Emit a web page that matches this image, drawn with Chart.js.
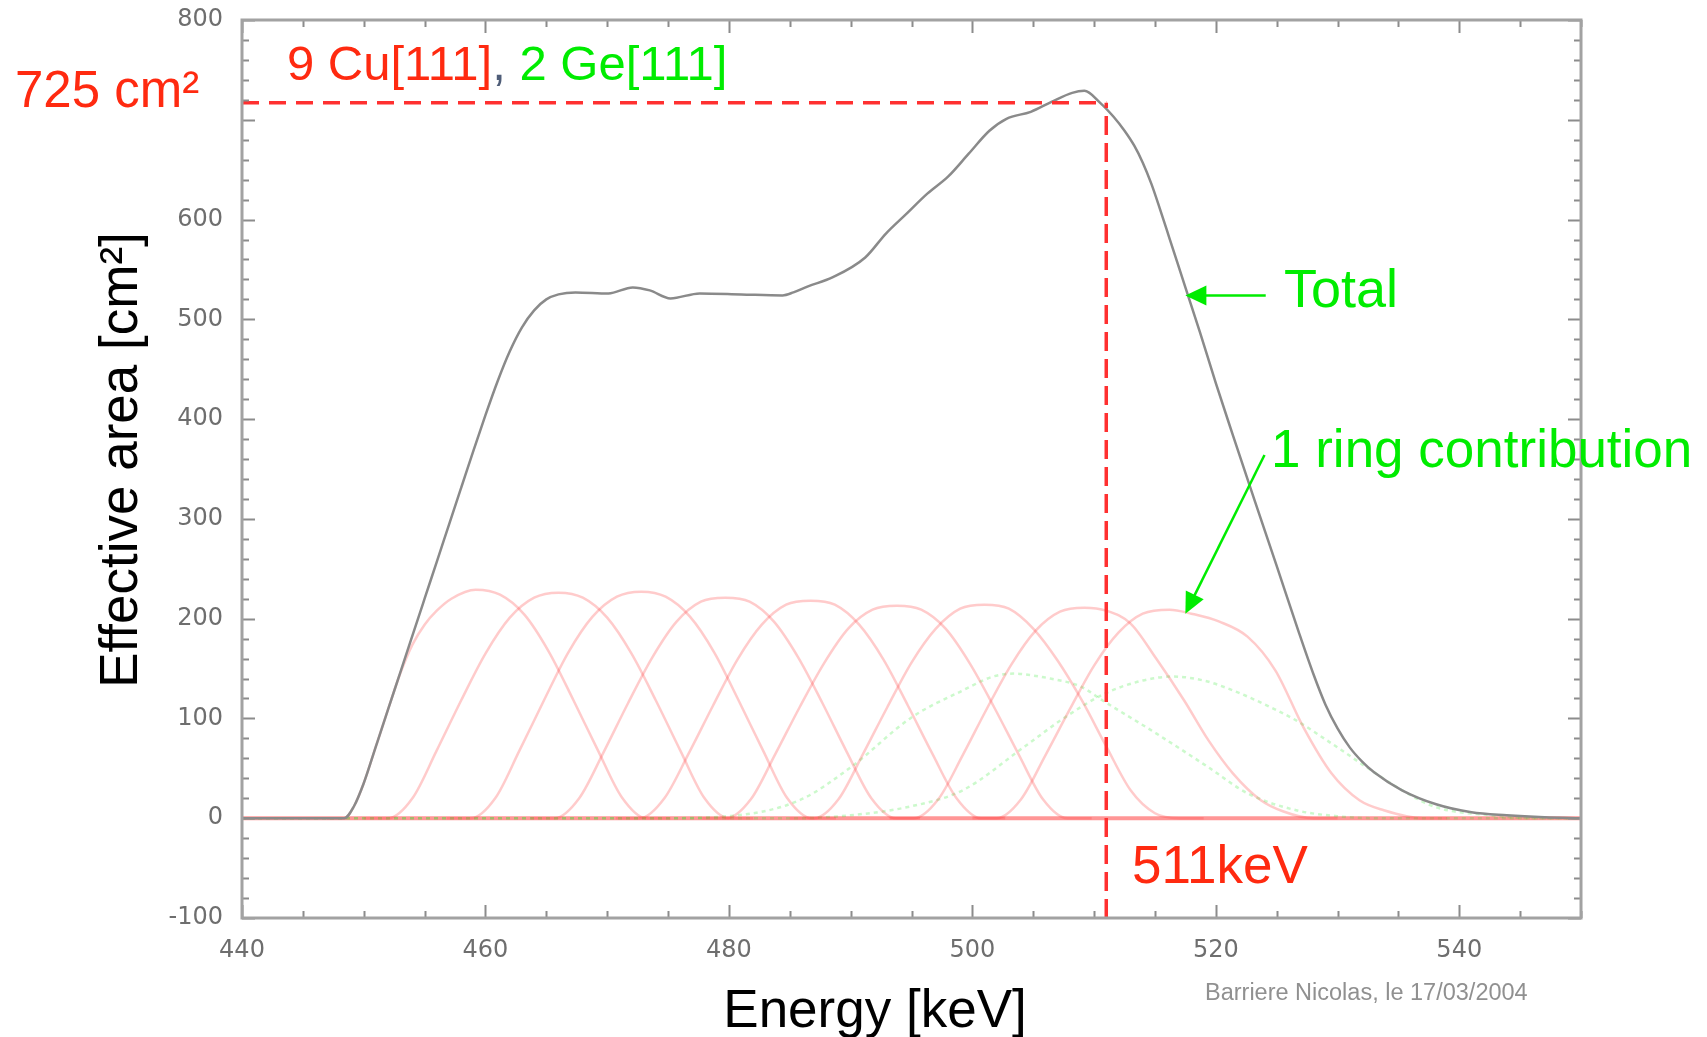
<!DOCTYPE html>
<html>
<head>
<meta charset="utf-8">
<script src="https://cdn.jsdelivr.net/npm/chart.js@4.4.1/dist/chart.umd.min.js"></script>
<style>
  html, body { margin: 0; padding: 0; background: #fff; }
  #wrap { width: 1707px; height: 1037px; }
</style>
</head>
<body>
<div id="wrap"><canvas id="chart" width="1707" height="1037"></canvas></div>
<script>
// axis ticks
const xTicks = [440, 460, 480, 500, 520, 540];
const yTicks = [-100, 0, 100, 200, 300, 400, 500, 600, 800];

// Total effective area [keV, cm2]
const totalCurve = [
    [440, 0], [448.4, 0], [449.2, 12], [450, 35], [451, 72], [452, 109], [453, 146],
    [454, 183], [455, 220], [456, 257], [457, 294], [458, 331], [459, 368], [460, 404],
    [461, 438], [462, 468], [463, 492], [464, 509], [465, 520], [466, 525], [467.4, 527],
    [470.1, 526], [472.1, 532], [473.5, 529], [475.2, 521], [477.6, 526], [481, 525],
    [484.4, 524], [485.3, 527], [486.5, 533], [488.5, 542], [491.2, 562], [492.9, 586],
    [494.6, 606], [496.3, 626], [498, 643], [499.7, 666], [501.4, 689], [502.8, 701],
    [504.8, 708], [506.5, 718], [508.2, 727], [509.2, 729], [510.5, 717], [511.6, 703],
    [512.5, 689], [513.3, 674], [514, 657], [514.7, 636], [515.4, 611], [516.2, 581],
    [517.5, 532], [518.7, 487], [520, 436], [521.4, 384], [523.2, 318], [525, 253],
    [526.8, 187], [528, 145], [529, 114], [530, 90], [531, 71], [532, 57], [533, 46],
    [535.3, 28], [538.1, 14], [541, 6], [543.9, 3], [547, 1], [550, 0]
];

// single Cu[111] ring contributions
const cu1 = [[447, 0], [448.4, 0], [449.2, 12], [450, 35], [451, 72], [452, 109], [453, 145], [454, 174], [455, 194], [456, 208], [457.2, 220], [459.2, 229], [461.2, 224], [463.2, 204], [465.2, 167], [467.2, 119], [469.2, 69], [471.2, 21], [473.2, 0], [475.2, 0]];
const cu2 = [[450, 0], [452, 0], [454, 20], [456, 68], [458, 118], [460, 165], [462, 201], [464, 221], [466, 226], [468, 221], [470, 201], [472, 165], [474, 118], [476, 68], [478, 20], [480, 0], [482, 0]];
const cu3 = [[456.8, 0], [458.8, 0], [460.8, 20], [462.8, 68], [464.8, 118], [466.8, 166], [468.8, 202], [470.8, 222], [472.8, 227], [474.8, 222], [476.8, 202], [478.8, 166], [480.8, 118], [482.8, 68], [484.8, 20], [486.8, 0], [488.8, 0]];
const cu4 = [[463.7, 0], [465.7, 0], [467.7, 20], [469.7, 66], [471.7, 115], [473.7, 161], [475.7, 197], [477.7, 217], [479.7, 221], [481.7, 217], [483.7, 197], [485.7, 161], [487.7, 115], [489.7, 66], [491.7, 20], [493.7, 0], [495.7, 0]];
const cu5 = [[470.7, 0], [472.7, 0], [474.7, 20], [476.7, 65], [478.7, 113], [480.7, 159], [482.7, 194], [484.7, 214], [486.7, 218], [488.7, 214], [490.7, 194], [492.7, 159], [494.7, 113], [496.7, 65], [498.7, 20], [500.7, 0], [502.7, 0]];
const cu6 = [[477.8, 0], [479.8, 0], [481.8, 19], [483.8, 64], [485.8, 111], [487.8, 155], [489.8, 190], [491.8, 209], [493.8, 213], [495.8, 209], [497.8, 190], [499.8, 155], [501.8, 111], [503.8, 64], [505.8, 19], [507.8, 0], [509.8, 0]];
const cu7 = [[485, 0], [487, 0], [489, 19], [491, 64], [493, 111], [495, 156], [497, 190], [499, 210], [501, 214], [503, 210], [505, 190], [507, 158], [509, 118], [511, 72], [513, 28], [515, 5], [517, 0], [519, 0]];
const cu8 = [[493.2, 0], [495.2, 0], [497.2, 19], [499.2, 63], [501.2, 110], [503.2, 154], [505.2, 188], [507.2, 207], [509.2, 211], [511, 208], [513, 195], [515.1, 160], [517.4, 118], [519.4, 78], [521.4, 45], [523.7, 18], [525.5, 7], [528, 0], [530, 0]];
const cu9 = [[500, 0], [502, 0], [504, 19], [506, 63], [508, 109], [510, 153], [512, 186], [514, 205], [516.2, 209], [518, 205], [520.3, 197], [522.6, 182], [524.9, 148], [527.2, 91], [529.5, 45], [531.8, 18], [533.8, 8], [537, 0], [539, 0]];

// Ge[111] ring contributions
const ge1 = [[440, 0], [474, 0], [479.9, 2], [485.8, 18], [490, 51], [495, 101], [499.2, 128], [501.7, 142], [503.5, 145], [505, 143], [506.4, 140], [508.9, 132], [510.7, 118], [515.1, 85], [519.4, 51], [522.6, 25], [526.6, 8], [530, 2], [533, 0], [550, 0]];
const ge2 = [[440, 0], [486, 0], [490, 3], [494.6, 11], [499.2, 28], [504.2, 71], [507.6, 101], [510.9, 125], [514, 138], [516.5, 142], [519, 138], [520.8, 131], [523.5, 117], [526.6, 98], [529.5, 75], [532.4, 51], [535.3, 28], [538.1, 11], [542.5, 3], [546, 0], [550, 0]];

// zero line shared by all rings
const zeroLine = [[440, 0], [550, 0]];

// 511 keV marker
const markEnergy = 511;
const markArea = 717;

// arrows: [tailE, tailA, tipE, tipA]
const totalArrow = [524.1, 524, 517.5, 524];
const ringArrow = [524.0, 364, 517.5, 205];

const RED = '#ff2a10';
const GREEN = '#00ec00';
const FONT = '"Liberation Sans", Arial, Helvetica, sans-serif';

function pts(arr) {
    return arr.map(p => ({ x: p[0], y: p[1] }));
}

function ringSet(arr) {
    return {
        data: pts(arr),
        borderColor: 'rgba(255, 70, 70, 0.28)',
        borderWidth: 2.5,
        pointRadius: 0,
        cubicInterpolationMode: 'monotone',
        fill: false
    };
}

function geSet(arr) {
    return {
        data: pts(arr),
        borderColor: 'rgba(40, 230, 40, 0.24)',
        borderWidth: 2.5,
        borderDash: [4, 4],
        pointRadius: 0,
        cubicInterpolationMode: 'monotone',
        fill: false
    };
}

function drawArrow(ctx, x, y, a) {
    const x0 = x.getPixelForValue(a[0]);
    const y0 = y.getPixelForValue(a[1]);
    const x1 = x.getPixelForValue(a[2]);
    const y1 = y.getPixelForValue(a[3]);
    const ang = Math.atan2(y1 - y0, x1 - x0);
    const head = 21;
    const half = 10;
    ctx.strokeStyle = GREEN;
    ctx.fillStyle = GREEN;
    ctx.lineWidth = 2.5;
    ctx.beginPath();
    ctx.moveTo(x0, y0);
    ctx.lineTo(x1 - Math.cos(ang) * head * 0.8, y1 - Math.sin(ang) * head * 0.8);
    ctx.stroke();
    ctx.beginPath();
    ctx.moveTo(x1, y1);
    ctx.lineTo(x1 - Math.cos(ang) * head - Math.sin(ang) * half, y1 - Math.sin(ang) * head + Math.cos(ang) * half);
    ctx.lineTo(x1 - Math.cos(ang) * head + Math.sin(ang) * half, y1 - Math.sin(ang) * head - Math.cos(ang) * half);
    ctx.closePath();
    ctx.fill();
}

const overlay = {
    id: 'overlay',
    afterDraw(chart) {
        const { ctx, chartArea: a, scales: { x, y } } = chart;
        ctx.save();

        // inward ticks on all four sides
        ctx.strokeStyle = '#8c8c8c';
        ctx.lineWidth = 2;
        ctx.beginPath();
        for (let v = -100; v <= 800; v += 20) {
            const py = Math.round(y.getPixelForValue(v)) + 0.5;
            const len = v % 100 === 0 ? 13 : 7;
            ctx.moveTo(a.left, py); ctx.lineTo(a.left + len, py);
            ctx.moveTo(a.right, py); ctx.lineTo(a.right - len, py);
        }
        for (let e = 440; e <= 550; e += 5) {
            const px = Math.round(x.getPixelForValue(e)) + 0.5;
            const len = (e - 440) % 20 === 0 ? 13 : 7;
            ctx.moveTo(px, a.bottom); ctx.lineTo(px, a.bottom - len);
            ctx.moveTo(px, a.top); ctx.lineTo(px, a.top + len);
        }
        ctx.stroke();

        // frame
        ctx.strokeStyle = '#a2a2a2';
        ctx.lineWidth = 3;
        ctx.strokeRect(a.left, a.top, a.right - a.left, a.bottom - a.top);

        // arrows
        drawArrow(ctx, x, y, totalArrow);
        drawArrow(ctx, x, y, ringArrow);

        // annotations
        ctx.textBaseline = 'alphabetic';
        ctx.textAlign = 'left';
        ctx.fillStyle = RED;
        ctx.font = '51px ' + FONT;
        ctx.fillText('725 cm²', 15, 107);

        ctx.font = '49px ' + FONT;
        let tx = 287;
        [['9 Cu[111]', RED], [',', '#4f5d78'], [' 2 Ge[111]', GREEN]].forEach(([t, c]) => {
            ctx.fillStyle = c;
            ctx.fillText(t, tx, 80);
            tx += ctx.measureText(t).width;
        });

        ctx.font = '53px ' + FONT;
        ctx.fillStyle = RED;
        ctx.fillText('511keV', 1132, 883);

        ctx.fillStyle = GREEN;
        ctx.font = '54px ' + FONT;
        ctx.fillText('Total', 1284, 307);
        ctx.font = '53px ' + FONT;
        ctx.fillText('1 ring contribution', 1271, 467);

        // axis titles
        ctx.fillStyle = '#000';
        ctx.font = '53px ' + FONT;
        ctx.textAlign = 'center';
        ctx.fillText('Energy [keV]', 875, 1027);

        ctx.save();
        ctx.translate(137, 460);
        ctx.rotate(-Math.PI / 2);
        ctx.font = '53px ' + FONT;
        ctx.fillText('Effective area [cm²]', 0, 0);
        ctx.restore();

        // credit
        ctx.textAlign = 'left';
        ctx.fillStyle = '#909090';
        ctx.font = '23.5px ' + FONT;
        ctx.fillText('Barriere Nicolas, le 17/03/2004', 1205, 1000);

        ctx.restore();
    }
};

new Chart(document.getElementById('chart'), {
    type: 'line',
    data: {
        datasets: [
            {
                data: [{ x: 440, y: markArea }, { x: markEnergy, y: markArea }],
                borderColor: '#ff3030',
                borderWidth: 3.5,
                borderDash: [17, 10],
                pointRadius: 0,
                fill: false
            },
            {
                data: [{ x: markEnergy, y: -100 }, { x: markEnergy, y: markArea }],
                borderColor: '#ff3030',
                borderWidth: 3.5,
                borderDash: [19, 8],
                pointRadius: 0,
                fill: false
            },
            {
                data: pts(totalCurve),
                borderColor: '#8a8a8a',
                borderWidth: 2.5,
                pointRadius: 0,
                cubicInterpolationMode: 'monotone',
                fill: false
            },
            ringSet(cu1), ringSet(cu2), ringSet(cu3), ringSet(cu4), ringSet(cu5),
            ringSet(cu6), ringSet(cu7), ringSet(cu8), ringSet(cu9),
            geSet(ge1), geSet(ge2),
            {
                data: pts(zeroLine),
                borderColor: 'rgba(255, 80, 80, 0.6)',
                borderWidth: 4,
                pointRadius: 0,
                fill: false
            }
        ]
    },
    options: {
        responsive: false,
        animation: false,
        devicePixelRatio: 1,
        layout: { padding: { left: 0, right: 126, top: 20, bottom: 0 } },
        plugins: {
            legend: { display: false },
            tooltip: { enabled: false }
        },
        scales: {
            x: {
                type: 'linear',
                min: 440,
                max: 550,
                grid: { display: false, drawTicks: false },
                border: { display: false },
                afterBuildTicks: s => { s.ticks = xTicks.map(v => ({ value: v })); },
                afterFit: s => { s.height = 119; s.paddingLeft = 0; s.paddingRight = 0; },
                ticks: {
                    padding: 18,
                    color: '#6e6e6e',
                    font: { family: '"DejaVu Sans"', size: 24 },
                    maxRotation: 0
                }
            },
            y: {
                type: 'linear',
                min: -100,
                max: 800,
                grid: { display: false, drawTicks: false },
                border: { display: false },
                afterBuildTicks: s => { s.ticks = yTicks.map(v => ({ value: v })); },
                afterFit: s => { s.width = 242; s.paddingTop = 0; s.paddingBottom = 0; },
                ticks: {
                    padding: 19,
                    color: '#6e6e6e',
                    font: { family: '"DejaVu Sans"', size: 24 }
                }
            }
        }
    },
    plugins: [overlay]
});
</script>
</body>
</html>
